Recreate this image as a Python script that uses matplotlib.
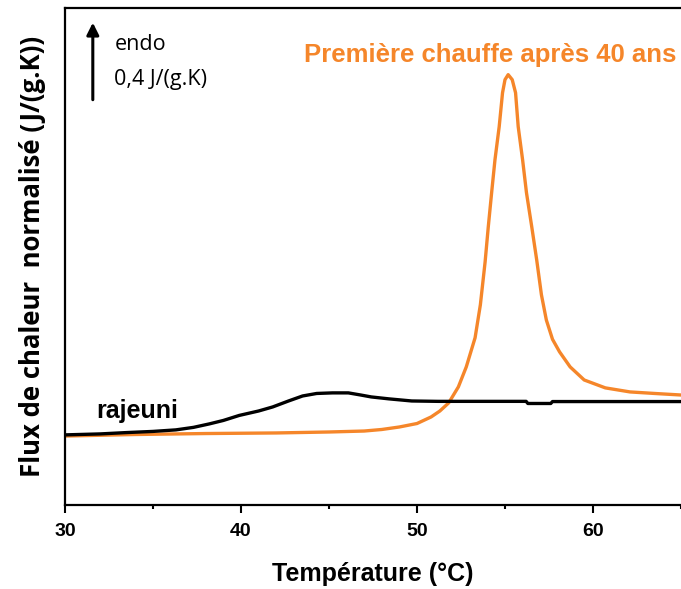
import matplotlib
matplotlib.use("Agg")
import matplotlib.pyplot as plt
from matplotlib import font_manager
from matplotlib.ticker import MultipleLocator

# ---- data ----
temp_rajeuni = [30, 32, 33.5, 35, 36.3, 37.3, 38.2, 39, 39.9, 41, 41.8, 42.7, 43.5, 44.3,
                45.2, 46.1, 46.8, 47.4, 48.4, 49.7, 51.2, 56.2, 56.3, 57.6, 57.7, 65]
flux_rajeuni = [0.364, 0.369, 0.376, 0.382, 0.390, 0.403, 0.421, 0.439, 0.465, 0.488,
                0.509, 0.540, 0.566, 0.579, 0.582, 0.582, 0.571, 0.561, 0.551, 0.540,
                0.538, 0.538, 0.527, 0.527, 0.537, 0.537]

temp_40ans = [30, 34, 38, 42, 45, 47, 48, 49, 50, 50.8, 51.3, 51.8, 52.35, 52.8, 53.3,
              53.6, 53.87, 54.05, 54.24, 54.43, 54.67, 54.86, 55.0, 55.18, 55.41, 55.6,
              55.75, 56.0, 56.22, 56.52, 56.8, 57.07, 57.35, 57.7, 58.1, 58.7, 59.5, 60.7,
              62.1, 63.5, 65]
flux_40ans = [0.358, 0.366, 0.371, 0.374, 0.379, 0.384, 0.392, 0.405, 0.423, 0.457, 0.488,
              0.530, 0.613, 0.717, 0.868, 1.039, 1.262, 1.444, 1.621, 1.792, 1.964, 2.140,
              2.208, 2.234, 2.208, 2.140, 1.964, 1.792, 1.621, 1.444, 1.273, 1.091, 0.960,
              0.860, 0.795, 0.717, 0.649, 0.608, 0.587, 0.579, 0.571]

xticks = [30, 40, 50, 60]
scale_bar = 0.4  # J/(g.K)

# ---- fonts ----
names = {f.name for f in font_manager.fontManager.ttflist}
arial = 'Liberation Sans'
calib = 'Open Sans' if 'Open Sans' in names else 'DejaVu Sans'

orange = '#F5862A'

fig = plt.figure(figsize=(6.81, 5.89), dpi=100)
ax = fig.add_axes([65/681, 84/589, 616/681, 497/589])

ax.plot(temp_40ans, flux_40ans, color=orange, lw=2.4, solid_joinstyle='round',
        solid_capstyle='round')
ax.plot(temp_rajeuni, flux_rajeuni, color='black', lw=2.4, solid_joinstyle='round')

ax.set_xlim(30, 65)
ax.set_ylim(0, 2.58)
ax.set_xticks(xticks)
ax.xaxis.set_minor_locator(MultipleLocator(5))
ax.set_yticks([])
ax.tick_params(axis='x', which='major', direction='out', length=6, width=1.5, pad=7)
ax.tick_params(axis='x', which='minor', direction='out', length=3, width=1.5)
for lab in ax.get_xticklabels():
    lab.set_fontfamily(arial)
    lab.set_fontweight('bold')
    lab.set_fontsize(14)

for s in ['left', 'bottom', 'top']:
    ax.spines[s].set_linewidth(1.6)
ax.spines['right'].set_visible(False)

ax.set_xlabel('Température (°C)', fontfamily=arial, fontweight='bold', fontsize=18, labelpad=16)
ax.set_ylabel('Flux de chaleur  normalisé (J/(g.K))', fontfamily=calib, fontweight='bold',
              fontsize=18.5)
ax.yaxis.set_label_coords(-0.031, 0.5)

# scale arrow
x_arrow = 31.58
y0 = 2.104
ax.annotate('', xy=(x_arrow, y0 + scale_bar), xytext=(x_arrow, y0),
            arrowprops=dict(arrowstyle='-|>', color='black', lw=2.2, mutation_scale=18,
                            shrinkA=0, shrinkB=0))
ax.text(32.8, 2.39, 'endo', fontfamily=calib, fontsize=15.5, va='center', ha='left')
ax.text(32.8, 2.208, '0,4 J/(g.K)', fontfamily=calib, fontsize=15.5, va='center', ha='left')

ax.text(54.14, 2.338, 'Première chauffe après 40 ans', color=orange, fontfamily=arial,
        fontweight='bold', fontsize=18.5, ha='center', va='center')
ax.text(31.8, 0.49, 'rajeuni', color='black', fontfamily=arial, fontweight='bold',
        fontsize=18, ha='left', va='center')

fig.savefig('out.png', dpi=100)
